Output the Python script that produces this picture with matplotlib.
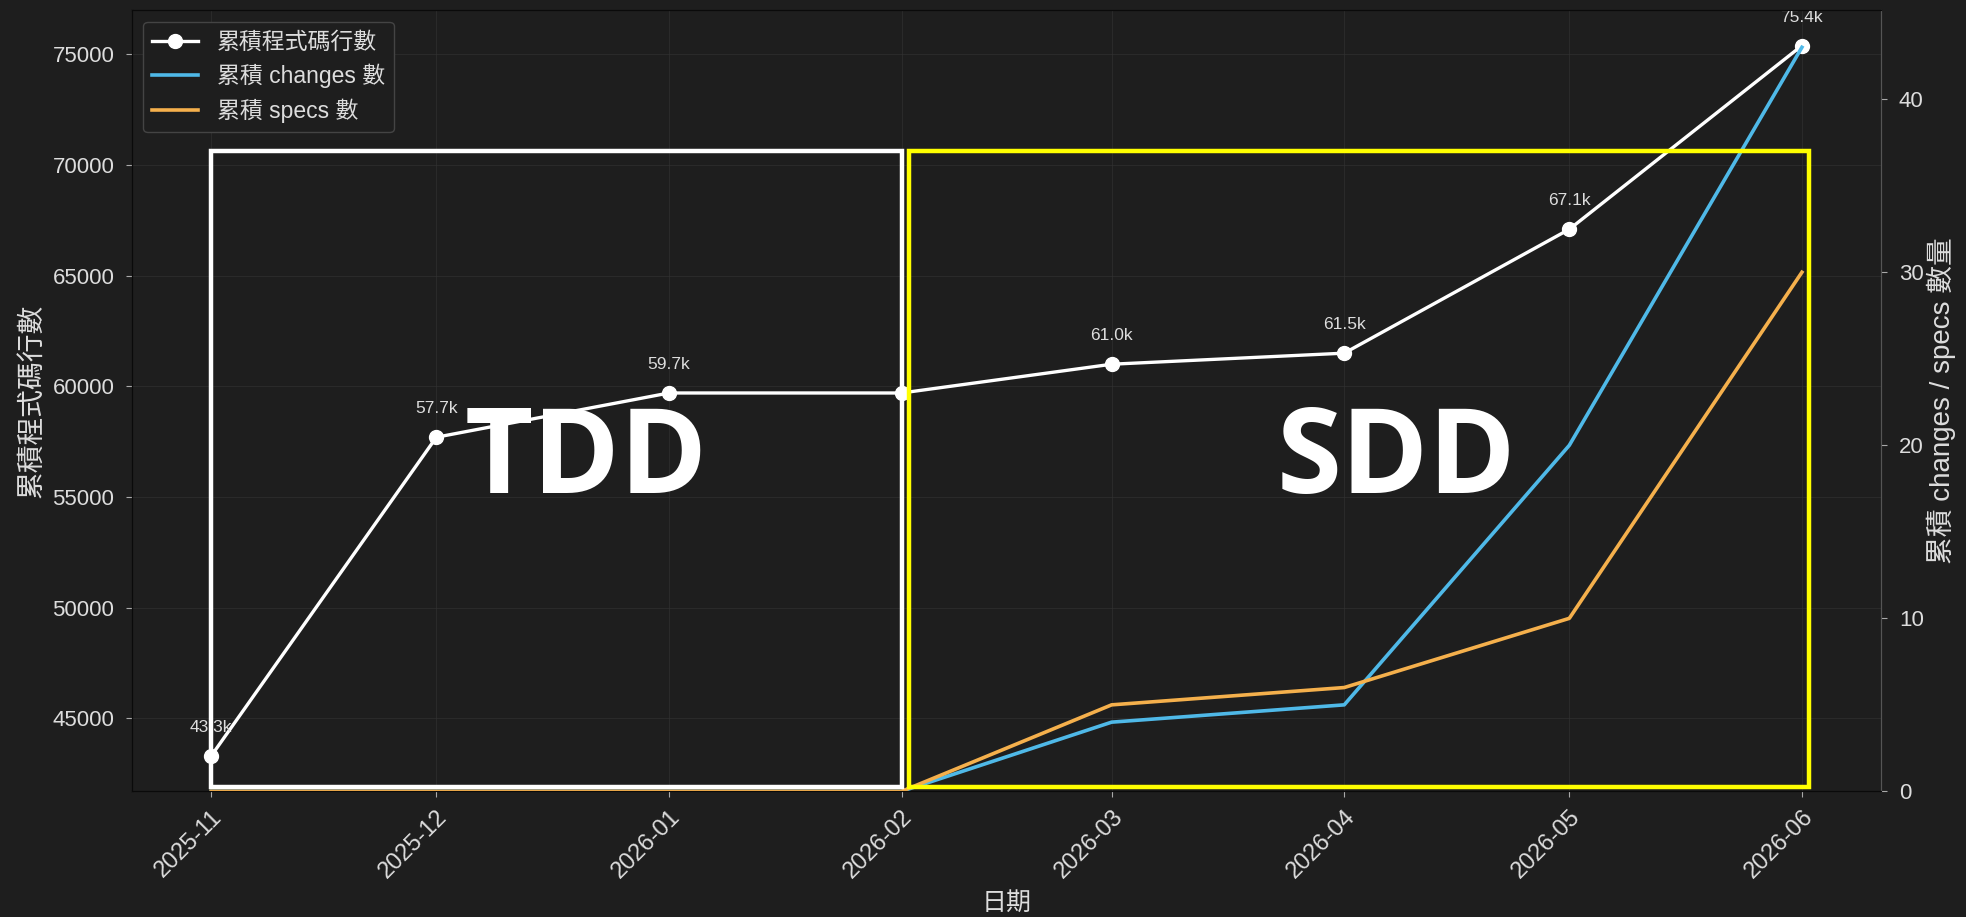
import numpy as np
import pandas as pd
import matplotlib
matplotlib.use("Agg")
import matplotlib.pyplot as plt
import matplotlib.dates as mdates
import matplotlib.transforms as mtransforms
from matplotlib.patches import Rectangle

plt.rcParams['font.family'] = ['Liberation Sans', 'Noto Sans CJK TC', 'DejaVu Sans']

# data
months = ['2025-11', '2025-12', '2026-01', '2026-02', '2026-03', '2026-04', '2026-05', '2026-06']
code_lines = [43300, 57700, 59700, 59700, 61000, 61500, 67100, 75400]
changes = [0, 0, 0, 0, 4, 5, 20, 43]
specs = [0, 0, 0, 0, 5, 6, 10, 30]

# phase boxes (start, end) and label positions
tdd_span = ('2025-11-01', '2026-02-01')
sdd_span = ('2026-02-02', '2026-06-02')
tdd_label_at = '2025-12-21'
sdd_label_at = '2026-04-08'

dates = pd.to_datetime(months)
bg = '#1e1e1e'

fig, ax1 = plt.subplots(figsize=(19.66, 9.17), dpi=100)
fig.patch.set_facecolor(bg)
ax1.set_facecolor(bg)
fig.subplots_adjust(left=0.067, right=0.957, bottom=0.137, top=0.989)

l1, = ax1.plot(dates, code_lines, '-o', color='white', lw=2.4, ms=10, label='累積程式碼行數', zorder=3)
prev = None
for d, v in zip(dates, code_lines):
    if v != prev:
        ax1.annotate(f'{v/1000:.1f}k', (d, v), xytext=(0, 15), textcoords='offset points',
                     ha='center', va='bottom', color='#dddddd', fontsize=12.5)
    prev = v

ax1.set_xlabel('日期', color='#dddddd', fontsize=18, labelpad=6)
ax1.set_ylabel('累積程式碼行數', color='#dddddd', fontsize=20, labelpad=5)
ax1.grid(True, color='#333333', lw=0.8, alpha=0.6)
ax1.xaxis.set_major_locator(mdates.MonthLocator())
ax1.xaxis.set_major_formatter(mdates.DateFormatter('%Y-%m'))
ax1.tick_params(axis='both', colors='#aaaaaa', labelcolor='#dddddd', labelsize=16, length=4.5, pad=8)
ax1.tick_params(axis='x', labelsize=17, pad=6)
plt.setp(ax1.get_xticklabels(), rotation=45, ha='right', rotation_mode='anchor')

ax2 = ax1.twinx()
l2, = ax2.plot(dates, changes, color='#4fb9e8', lw=2.6, label='累積 changes 數')
l3, = ax2.plot(dates, specs, color='#f5b04c', lw=2.6, label='累積 specs 數')
ax2.set_ylim(bottom=0)
ax2.set_ylabel('累積 changes / specs 數量', color='#dddddd', fontsize=20, labelpad=2)
ax2.tick_params(axis='y', colors='#aaaaaa', labelcolor='#dddddd', labelsize=16, length=4.5, pad=8)

for s in ['left', 'top', 'bottom']:
    ax1.spines[s].set_color('#0a0a0a')
    ax2.spines[s].set_color('#0a0a0a')
ax1.spines['right'].set_color('#555555')
ax2.spines['right'].set_color('#555555')

leg = ax1.legend(handles=[l1, l2, l3], loc='upper left', fontsize=16.5, labelspacing=0.45,
                 facecolor=bg, edgecolor='#444444', labelcolor='#dddddd', framealpha=1)
leg.set_zorder(10)

# phase boxes
trans = mtransforms.blended_transform_factory(ax2.transData, ax2.transAxes)
for span, col in [(tdd_span, 'white'), (sdd_span, '#ffff00')]:
    x0 = mdates.date2num(pd.Timestamp(span[0]))
    x1 = mdates.date2num(pd.Timestamp(span[1]))
    ax2.add_patch(Rectangle((x0, 0.006), x1 - x0, 0.814, transform=trans, fill=False,
                            edgecolor=col, lw=3.2, zorder=8, clip_on=False))

for txt, at in [('TDD', tdd_label_at), ('SDD', sdd_label_at)]:
    ax2.text(mdates.date2num(pd.Timestamp(at)), 0.382, txt, transform=trans, ha='center',
             va='baseline', color='white', fontsize=85, fontweight='bold', family='Open Sans',
             zorder=9)

fig.savefig('out.png', dpi=100, facecolor=bg)
